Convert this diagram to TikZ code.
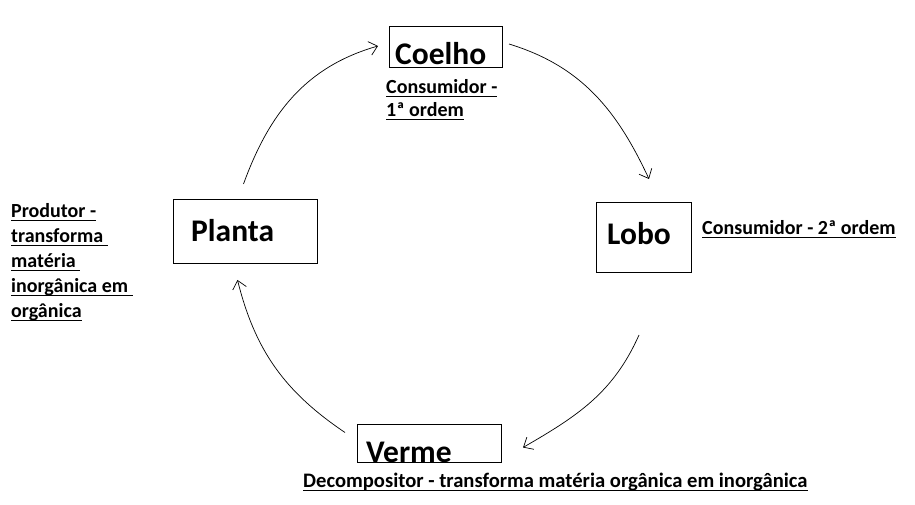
\documentclass[tikz,border=0pt]{standalone}
\usepackage{fontspec}
\setmainfont{Carlito}
\usetikzlibrary{arrows.meta,positioning}

% sublinhado a altura fixa, como no editor de imagem
\newcommand\sublin[1]{\setbox0\hbox{#1}\rlap{\rule[-3pt]{\wd0}{1.3pt}}\box0}

\begin{document}
\begin{tikzpicture}[
    x=1pt,y=1pt,
    caixa/.style = {draw, line width=1pt, inner sep=0pt, anchor=south west},
    nome/.style  = {font=\fontsize{31.5}{31}\selectfont\bfseries,
                    anchor=base west, inner sep=0pt},
    papel/.style = {font=\fontsize{20}{25}\selectfont\bfseries,
                    anchor=base west, inner sep=0pt, align=left},
    seta/.style  = {-{Straight Barb[length=8pt,width=14pt]}, line width=0.7pt},
  ]
  \useasboundingbox (0,0) rectangle (915,505);

  % -- caixas dos seres vivos -------------------------------------------
  \node[caixa,minimum width=113,minimum height=41] (coelho) at (389,437) {};
  \node[caixa,minimum width=95, minimum height=70] (lobo)   at (596,232) {};
  \node[caixa,minimum width=144,minimum height=64] (planta) at (173,241) {};
  \node[caixa,minimum width=144,minimum height=38] (verme)  at (357,42)  {};

  \node[nome] (tcoelho) at (395,440) {Coelho};
  \node[nome] (tlobo)   at (607,260) {Lobo};
  \node[nome] (tplanta) at (191,263) {Planta};
  \node[nome] (tverme)  at (366,42)  {Verme};

  % -- papeis na cadeia (base = ultima linha) ------------------------------
  \node[papel,font=\fontsize{20}{23}\selectfont\bfseries] (pcoelho) at (386,388)
       {\sublin{Consumidor -}\\\sublin{1ª ordem}};
  \node[papel] (plobo) at (702,270) {\sublin{Consumidor - 2ª ordem}};
  \node[papel] (pplanta) at (11,187)
       {\sublin{Produtor -}\\\sublin{transforma }\\\sublin{matéria }\\
        \sublin{inorgânica em }\\\sublin{orgânica}};
  \node[papel,font=\fontsize{20.6}{25}\selectfont\bfseries] (pverme) at (303,17)
       {\sublin{Decompositor - transforma matéria orgânica em inorgânica}};

  % -- ciclo --------------------------------------------------------------
  \draw[seta] ([xshift=-2,yshift=15]planta.north) to[out=70,in=196]
              ([xshift=-11,yshift=1]coelho.west);
  \draw[seta] ([xshift=6,yshift=3]coelho.east) to[out=-17,in=115]
              ([xshift=5,yshift=23]lobo.north);
  \draw[seta] ([xshift=-5,yshift=-62]lobo.south) to[out=-114,in=30]
              ([xshift=21,yshift=-4]verme.east);
  \draw[seta] ([xshift=-12,yshift=11]verme.west) to[out=146,in=-76]
              ([xshift=-8,yshift=-16]planta.south);

\end{tikzpicture}
\end{document}
